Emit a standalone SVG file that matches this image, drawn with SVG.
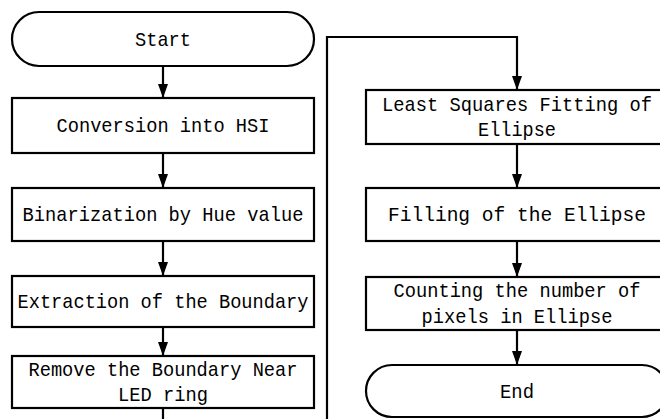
<svg xmlns="http://www.w3.org/2000/svg" width="660" height="419" viewBox="0 0 660 419">
<defs>
<marker id="arr" markerUnits="userSpaceOnUse" markerWidth="14" markerHeight="10" refX="14" refY="5" orient="auto"><path d="M0,0 L14,5 L0,10 z" fill="#000"/></marker>
<style>
.n{fill:#fff;stroke:#000;stroke-width:2.2}
.t{font-family:"Liberation Mono",monospace;font-size:21px;fill:#000;text-anchor:middle}
.c{fill:none;stroke:#000;stroke-width:2.2}
</style>
</defs>
<rect width="660" height="419" fill="#fff"/>
<g id="connectors">
<line class="c" x1="163" y1="66" x2="163" y2="98" marker-end="url(#arr)"/>
<line class="c" x1="163" y1="153" x2="163" y2="188" marker-end="url(#arr)"/>
<line class="c" x1="163" y1="241" x2="163" y2="276" marker-end="url(#arr)"/>
<line class="c" x1="163" y1="327" x2="163" y2="356" marker-end="url(#arr)"/>
<path class="c" d="M163,408 V430 H327 V37 H517 V90" marker-end="url(#arr)"/>
<line class="c" x1="517" y1="144" x2="517" y2="188" marker-end="url(#arr)"/>
<line class="c" x1="517" y1="241" x2="517" y2="277" marker-end="url(#arr)"/>
<line class="c" x1="517" y1="330" x2="517" y2="365" marker-end="url(#arr)"/>
</g>
<g id="start"><rect class="n" x="12" y="12" width="302" height="54" rx="27"/><text class="t" x="163" y="46" textLength="56" lengthAdjust="spacingAndGlyphs">Start</text></g>
<g id="hsi"><rect class="n" x="12" y="98" width="302" height="55"/><text class="t" x="163" y="132" textLength="213" lengthAdjust="spacingAndGlyphs">Conversion into HSI</text></g>
<g id="binarize"><rect class="n" x="12" y="188" width="302" height="53"/><text class="t" x="163" y="221" textLength="281" lengthAdjust="spacingAndGlyphs">Binarization by Hue value</text></g>
<g id="extract"><rect class="n" x="12" y="276" width="302" height="51"/><text class="t" x="163" y="308" textLength="291" lengthAdjust="spacingAndGlyphs">Extraction of the Boundary</text></g>
<g id="remove"><rect class="n" x="12" y="356" width="302" height="52"/><text class="t" x="163" y="376" textLength="269" lengthAdjust="spacingAndGlyphs">Remove the Boundary Near</text><text class="t" x="163" y="401" textLength="90" lengthAdjust="spacingAndGlyphs">LED ring</text></g>
<g id="fit"><rect class="n" x="366" y="90" width="302" height="54"/><text class="t" x="517" y="111" textLength="270" lengthAdjust="spacingAndGlyphs">Least Squares Fitting of</text><text class="t" x="517" y="136" textLength="78" lengthAdjust="spacingAndGlyphs">Ellipse</text></g>
<g id="fill"><rect class="n" x="366" y="188" width="302" height="53"/><text class="t" x="517" y="221" textLength="258" lengthAdjust="spacingAndGlyphs">Filling of the Ellipse</text></g>
<g id="count"><rect class="n" x="366" y="277" width="302" height="53"/><text class="t" x="517" y="297" textLength="247" lengthAdjust="spacingAndGlyphs">Counting the number of</text><text class="t" x="517" y="323" textLength="191" lengthAdjust="spacingAndGlyphs">pixels in Ellipse</text></g>
<g id="end"><rect class="n" x="366" y="365" width="302" height="52" rx="26"/><text class="t" x="517" y="398" textLength="34" lengthAdjust="spacingAndGlyphs">End</text></g>
</svg>
